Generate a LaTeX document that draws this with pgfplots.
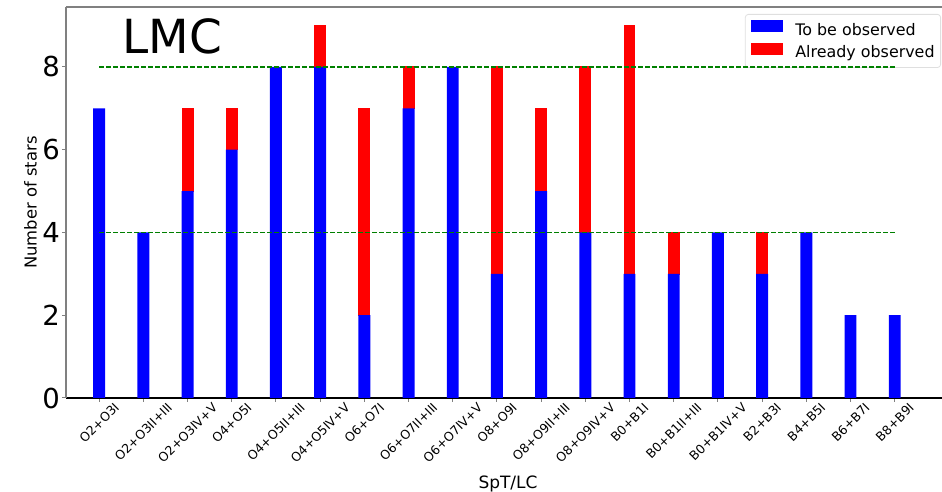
\documentclass[border=0pt]{standalone}
\usepackage{pgfplots}
\pgfplotsset{compat=1.18}
\usepackage{pgfplotstable}
\usepackage{graphicx}
\usepackage{fontspec}
\setmainfont{DejaVu Sans}

\definecolor{mplblue}{RGB}{0,0,255}
\definecolor{mplred}{RGB}{255,0,0}
\definecolor{mplgreen}{RGB}{0,128,0}

% star counts per spectral type / luminosity class
\pgfplotstableread{
idx blue red
0  7 0
1  4 0
2  5 2
3  6 1
4  8 0
5  8 1
6  2 5
7  7 1
8  8 0
9  3 5
10 5 2
11 4 4
12 3 6
13 3 1
14 4 0
15 3 1
16 4 0
17 2 0
18 2 0
}\starcounts

\pgfplotsset{
  frame/.style={
    at={(0pt,0pt)}, anchor=south west,
    width=876pt, height=391pt, scale only axis,
    xmin=-0.75, xmax=19.07, ymin=0, ymax=9.45,
  },
}

\begin{document}
\begin{tikzpicture}
\begin{axis}[
  frame,
  ybar stacked, bar width=0.27,
  clip=false,
  axis x line*=bottom, axis y line*=left,
  x axis line style={black, line width=1.2pt},
  y axis line style={gray, line width=1.2pt},
  tick align=outside, major tick length=4pt,
  tick style={gray, line width=1pt},
  xtick={0,...,18},
  xticklabels={
    \rotatebox{45}{O2+O3I},
    \rotatebox{45}{O2+O3II+III},
    \rotatebox{45}{O2+O3IV+V},
    \rotatebox{45}{O4+O5I},
    \rotatebox{45}{O4+O5II+III},
    \rotatebox{45}{O4+O5IV+V},
    \rotatebox{45}{O6+O7I},
    \rotatebox{45}{O6+O7II+III},
    \rotatebox{45}{O6+O7IV+V},
    \rotatebox{45}{O8+O9I},
    \rotatebox{45}{O8+O9II+III},
    \rotatebox{45}{O8+O9IV+V},
    \rotatebox{45}{B0+B1I},
    \rotatebox{45}{B0+B1II+III},
    \rotatebox{45}{B0+B1IV+V},
    \rotatebox{45}{B2+B3I},
    \rotatebox{45}{B4+B5I},
    \rotatebox{45}{B6+B7I},
    \rotatebox{45}{B8+B9I}},
  xticklabel style={font=\fontsize{12.5}{13}\selectfont, anchor=north, inner sep=0pt},
  ytick={0,2,4,6,8},
  /pgf/number format/assume math mode=true,
  yticklabel style={font=\fontsize{27.5}{30}\selectfont, anchor=east, inner sep=2pt},
  xlabel={SpT/LC},
  xlabel style={at={(axis description cs:0.5046,-0.2302)}, anchor=base, inner sep=0pt,
    font=\fontsize{17}{20}\selectfont},
  ylabel={Number of stars},
  ylabel style={at={(axis description cs:-0.0331,0.5)}, anchor=south, inner sep=0pt,
    font=\fontsize{16.4}{19}\selectfont},
  legend style={
    at={(axis description cs:1,1)}, xshift=-1pt, yshift=-7pt, anchor=north east,
    draw=gray!25, line width=0.8pt, rounded corners=3pt,
    inner xsep=6pt, inner ysep=6pt, row sep=3.8pt,
    font=\fontsize{15.9}{18}\selectfont,
    nodes={inner sep=0pt, text height=12.4pt, text depth=3.5pt},
  },
  legend cell align=left,
  legend image code/.code={
    \path[draw=none, fill=none] (0pt,0pt) -- (44pt,0pt);
    \begin{scope}[#1]
      \pgfsetcornersarced{\pgfpointorigin}
      \pgfpathrectangle{\pgfpoint{0pt}{-1.3pt}}{\pgfpoint{32pt}{12pt}}
      \pgfusepath{fill}
    \end{scope}
  },
]
\addplot[fill=mplblue, draw=none] table[x=idx, y=blue] {\starcounts};
\addlegendentry{To be observed}
\addplot[fill=mplred, draw=mplred, line width=1.5pt, bar width=0.236] table[x=idx, y=red] {\starcounts};
\addlegendentry{Already observed}

\draw[gray, line width=1.2pt] (rel axis cs:0,1) -- (rel axis cs:1,1);
\node[anchor=base west, inner sep=0pt, font=\fontsize{47}{50}\selectfont]
  at (axis cs:0.52,8.33) {LMC};
\end{axis}

% reference levels at 4 and 8 stars
\begin{axis}[frame, hide axis]
\addplot[mplgreen, line width=1.2pt, dash pattern=on 5pt off 2pt] coordinates {(0,8) (18,8)};
\addplot[mplgreen, line width=1.2pt, dash pattern=on 5pt off 2pt] coordinates {(0,4) (18,4)};
\end{axis}

\pgfresetboundingbox
\useasboundingbox (-66pt,-94pt) rectangle (876pt,398pt);
\end{tikzpicture}
\end{document}
